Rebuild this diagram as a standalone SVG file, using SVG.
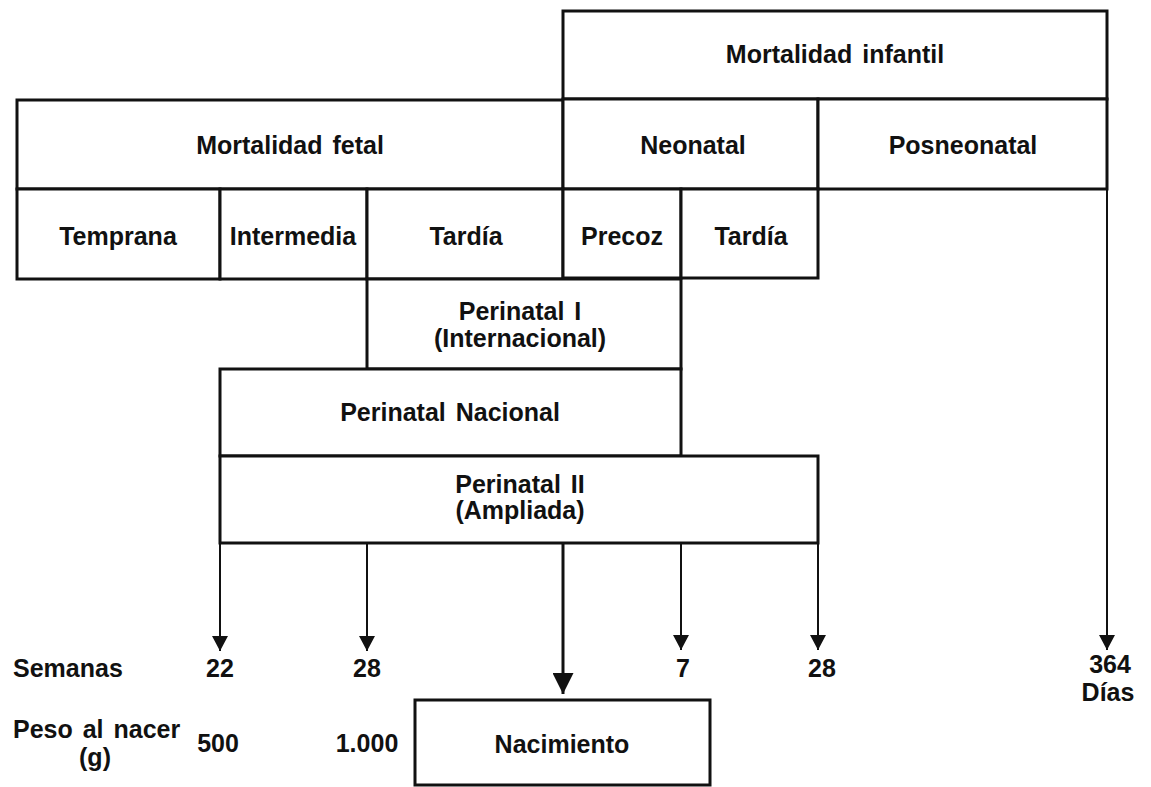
<svg xmlns="http://www.w3.org/2000/svg" width="1151" height="787" viewBox="0 0 1151 787">
<defs>
<style>
.box{fill:#fff;stroke:#111;stroke-width:3}
.t{font-family:"Liberation Sans",Arial,sans-serif;font-weight:bold;font-size:25px;word-spacing:3px;fill:#111;text-anchor:middle}
.tl{text-anchor:start}
.ln{stroke:#111;stroke-width:2;fill:none}
.lnb{stroke:#111;stroke-width:3;fill:none}
</style>
<marker id="ah" markerUnits="userSpaceOnUse" markerWidth="16" markerHeight="16" refX="15" refY="8" orient="auto" viewBox="0 0 16 16">
<path d="M0,0 L15,8 L0,16 z" fill="#111"/>
</marker>
<marker id="ahb" markerUnits="userSpaceOnUse" markerWidth="22" markerHeight="21" refX="21" refY="10.5" orient="auto" viewBox="0 0 22 21">
<path d="M0,0 L21,10.5 L0,21 z" fill="#111"/>
</marker>
</defs>
<rect width="1151" height="787" fill="#fff"/>

<g id="connectors">
<line class="ln" x1="1107" y1="189" x2="1107" y2="650" marker-end="url(#ah)"/>
<line class="ln" x1="220" y1="543" x2="220" y2="651" marker-end="url(#ah)"/>
<line class="ln" x1="367" y1="543" x2="367" y2="651" marker-end="url(#ah)"/>
<line class="ln" x1="681" y1="543" x2="681" y2="650" marker-end="url(#ah)"/>
<line class="ln" x1="818" y1="543" x2="818" y2="650" marker-end="url(#ah)"/>
<line class="lnb" x1="563" y1="543" x2="563" y2="694" marker-end="url(#ahb)"/>
</g>

<g id="n-infantil"><rect class="box" x="563" y="11" width="544" height="88"/><text class="t" x="835" y="63">Mortalidad infantil</text></g>
<g id="n-fetal"><rect class="box" x="17" y="100" width="546" height="89"/><text class="t" x="290" y="154">Mortalidad fetal</text></g>
<g id="n-neonatal"><rect class="box" x="563" y="99" width="255" height="90"/><text class="t" x="693" y="154">Neonatal</text></g>
<g id="n-posneonatal"><rect class="box" x="818" y="99" width="289" height="90"/><text class="t" x="963" y="154">Posneonatal</text></g>
<g id="n-temprana"><rect class="box" x="17" y="189" width="203" height="90"/><text class="t" x="118" y="245">Temprana</text></g>
<g id="n-intermedia"><rect class="box" x="220" y="189" width="147" height="90"/><text class="t" x="293" y="245">Intermedia</text></g>
<g id="n-tardia-fetal"><rect class="box" x="367" y="189" width="196" height="90"/><text class="t" x="466" y="245">Tardía</text></g>
<g id="n-precoz"><rect class="box" x="563" y="189" width="118" height="89"/><text class="t" x="622" y="245">Precoz</text></g>
<g id="n-tardia-neo"><rect class="box" x="681" y="189" width="137" height="89"/><text class="t" x="751" y="245">Tardía</text></g>
<g id="n-perinatal1"><rect class="box" x="367" y="279" width="314" height="90"/><text class="t" x="520" y="320">Perinatal I</text><text class="t" x="520" y="347">(Internacional)</text></g>
<g id="n-perinatal-nacional"><rect class="box" x="220" y="369" width="461" height="87"/><text class="t" x="450" y="421">Perinatal Nacional</text></g>
<g id="n-perinatal2"><rect class="box" x="220" y="456" width="598" height="87"/><text class="t" x="520" y="493">Perinatal II</text><text class="t" x="520" y="519">(Ampliada)</text></g>
<g id="n-nacimiento"><rect class="box" x="415" y="700" width="295" height="85"/><text class="t" x="562" y="753">Nacimiento</text></g>

<g id="labels">
<text class="t tl" x="13" y="677">Semanas</text>
<text class="t" x="220" y="677">22</text>
<text class="t" x="367" y="677">28</text>
<text class="t" x="683" y="677">7</text>
<text class="t" x="822" y="677">28</text>
<text class="t" x="1110" y="673">364</text>
<text class="t" x="1108" y="701">Días</text>
<text class="t tl" x="13" y="738">Peso al nacer</text>
<text class="t" x="95" y="766">(g)</text>
<text class="t" x="218" y="752">500</text>
<text class="t" x="367" y="752">1.000</text>
</g>
</svg>
